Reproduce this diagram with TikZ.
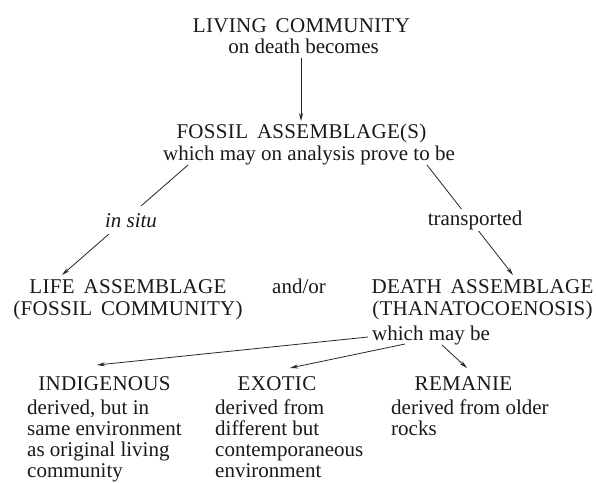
\documentclass[tikz,border=0pt]{standalone}
\usepackage{fontspec}
\setmainfont{Liberation Serif}
\newfontfamily\capsfont[LetterSpace=1.5,WordSpace=1.6]{Liberation Serif}
\usetikzlibrary{arrows.meta}
\begin{document}
\begin{tikzpicture}[x=1pt,y=-1pt,
  txt/.style={inner sep=0pt, text=black!90, font={\fontsize{21}{21.7}\selectfont}},
  caps/.style={inner sep=0pt, text=black!90, align=center, font={\capsfont\fontsize{21}{22}\selectfont}},
  desc/.style={inner sep=0pt, text=black!90, anchor=base west, align=left, font={\fontsize{21}{21}\selectfont}},
  lbl/.style={txt, fill=white},
  conn/.style={line width=0.8pt, draw=black!85},
  arr/.style={conn, -{Stealth[length=8pt,width=4pt]}},
]
\useasboundingbox[fill=white] (0,0) rectangle (596,482);

% connector end points
\coordinate (a1) at (301,58);   \coordinate (a2) at (301,121);
\coordinate (ls) at (188,165);  \coordinate (lt) at (62,275);
\coordinate (rs) at (427,165);  \coordinate (rt) at (513,275);
\coordinate (b1s) at (368,337); \coordinate (b1t) at (97,365);
\coordinate (b2s) at (405,344); \coordinate (b2t) at (290,368);
\coordinate (b3s) at (442,345); \coordinate (b3t) at (467,368);

% text (multi-line nodes are placed by the baseline of their last line)
\node[caps, anchor=base] (living) at (301.5,32) {LIVING COMMUNITY};
\node[txt, anchor=base] (ondeath) at (303.5,53) {on death becomes};
\node[caps, anchor=base] (fossil) at (301.5,138) {FOSSIL ASSEMBLAGE(S)};
\node[txt, anchor=base west] (analysis) at (163,160) {which may on analysis prove to be};

\node[caps, anchor=base] (life) at (128,315) {LIFE ASSEMBLAGE\\(FOSSIL COMMUNITY)};
\node[txt, anchor=base west] (andor) at (272,293) {and/or};
\node[caps, anchor=base] (death) at (482.5,315) {DEATH ASSEMBLAGE\\(THANATOCOENOSIS)};
\node[txt, anchor=base west] (whichbe) at (372,340) {which may be};

\node[caps, anchor=base] (indig) at (104.5,390) {INDIGENOUS};
\node[caps, anchor=base] (exotic) at (277,390) {EXOTIC};
\node[caps, anchor=base] (remanie) at (463.5,390) {REMANIE};

\node[desc] (d1) at (27,477) {derived, but in\\same environment\\as original living\\community};
\node[desc] (d2) at (215,477) {derived from\\different but\\contemporaneous\\environment};
\node[desc] (d3) at (391,435) {derived from older\\rocks};

% connectors
\draw[arr] (a1) -- (a2);
\draw[arr] (ls) -- (lt);
\draw[arr] (rs) -- (rt);
\node[lbl, inner xsep=3pt, inner ysep=7pt, anchor=base, font={\fontsize{21}{21.7}\selectfont\itshape}] (insitu) at (131,227) {in situ};
\node[lbl, inner sep=1.5pt, anchor=base] (transp) at (475,225) {transported};
\draw[arr] (b1s) -- (b1t);
\draw[arr] (b2s) -- (b2t);
\draw[arr] (b3s) -- (b3t);
\end{tikzpicture}
\end{document}
